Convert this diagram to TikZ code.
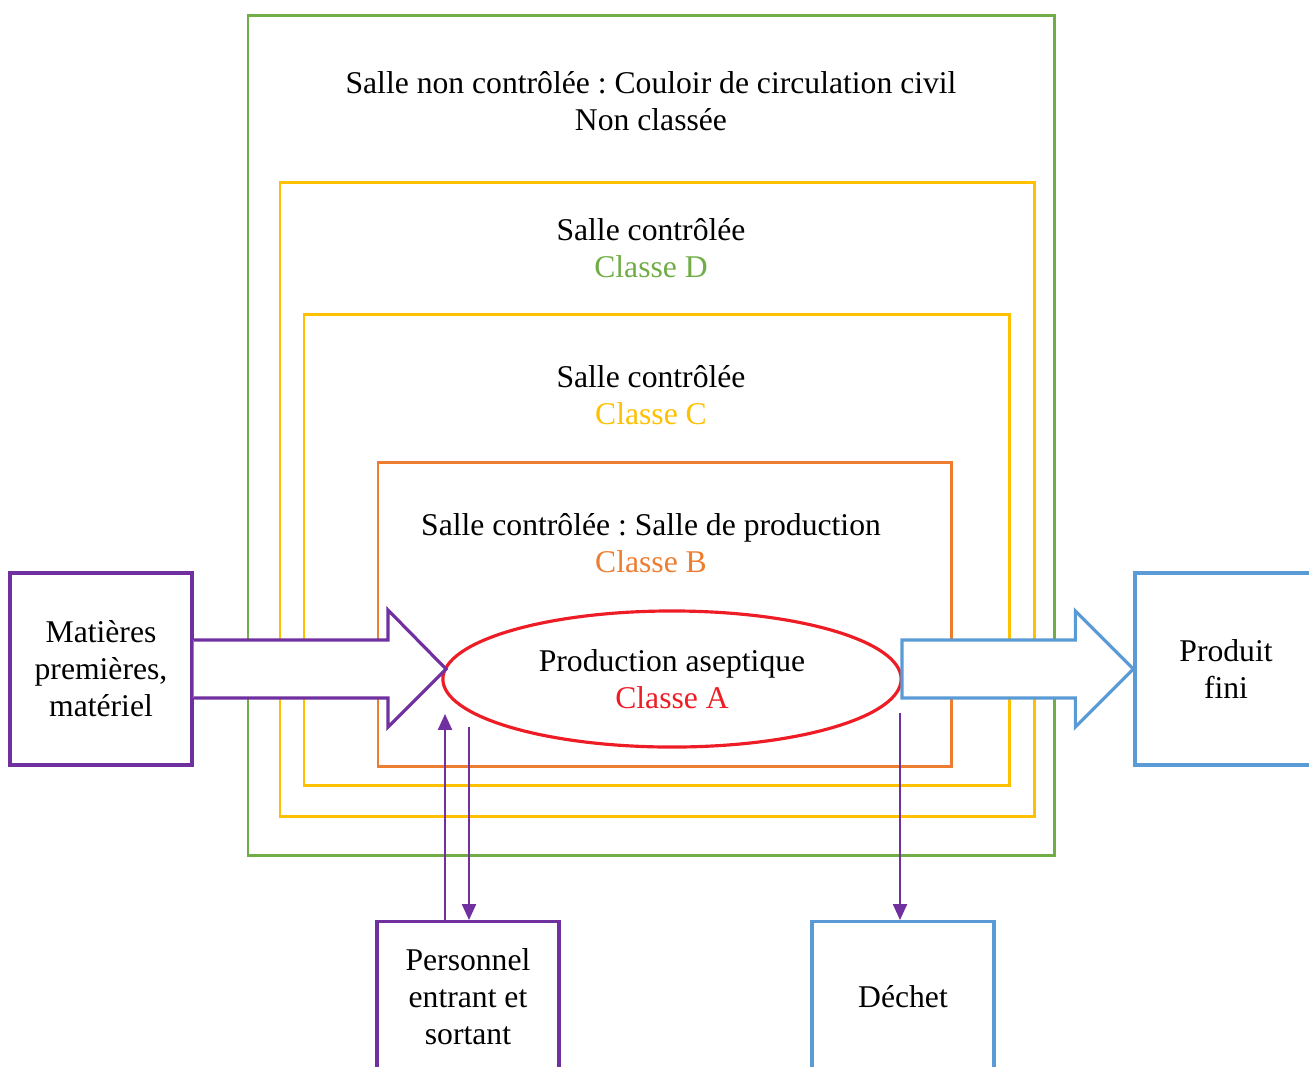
\documentclass[tikz,border=0pt]{standalone}
\usepackage{fontspec}
\setmainfont{Liberation Serif}
\usetikzlibrary{positioning}
\usetikzlibrary{calc}
\usetikzlibrary{arrows.meta}
\usetikzlibrary{shapes.geometric}
\frenchspacing

\definecolor{vertD}{HTML}{70AD47}
\definecolor{jauneC}{HTML}{FFC000}
\definecolor{orangeB}{HTML}{ED7D31}
\definecolor{rougeA}{HTML}{EE1C25}
\definecolor{violet}{HTML}{7030A0}
\definecolor{bleu}{HTML}{5B9BD5}

\begin{document}
\begin{tikzpicture}[x=0.01cm, y=-0.01cm, font=\fontsize{9}{10.5}\selectfont,
        salle/.style={line width=0.85pt},
        boite/.style={draw, line width=0.9pt, minimum width=1.82cm, align=center, inner sep=0pt},
        fleche/.style={line width=0.9pt, fill=white, line join=miter},
        flux/.style={violet, line width=0.45pt, -{Triangle[width=4pt,length=4.5pt]}}]

        \useasboundingbox (0,0) rectangle (1309,1066);
        \clip (0,0) rectangle (1309,1066);

        % couloir non classe
        \draw[salle, vertD] (248,15) rectangle (1054,855);
        \node[align=center] (txtNC) at (651,101) {Salle non contrôlée : Couloir de circulation civil\\Non classée};

        % classe D
        \draw[salle, jauneC] (280,182) rectangle (1034,816);
        \node[align=center] (txtD) at (651,248) {Salle contrôlée\\\textcolor{vertD}{Classe D}};

        % classe C
        \draw[salle, jauneC] (304,314) rectangle (1009,785);
        \node[align=center] (txtC) at (651,395) {Salle contrôlée\\\textcolor{jauneC}{Classe C}};

        % classe B
        \draw[salle, orangeB] (378,462) rectangle (951,766);
        \node[align=center] (txtB) at (651,543) {Salle contrôlée : Salle de production\\\textcolor{orangeB}{Classe B}};

        % boites exterieures
        \node[boite, draw=violet, minimum height=1.92cm] (matieres) at (101,669) {Matières\\premières,\\matériel};
        \node[boite, draw=bleu, minimum height=1.92cm] (produit) at (1226,669) {Produit\\fini};
        \node[boite, draw=violet, minimum height=1.5cm, anchor=north] (personnel) at (468,920) {Personnel\\entrant et\\sortant};
        \node[boite, draw=bleu, minimum height=1.5cm, anchor=north] (dechet) at (903,920) {Déchet};

        % zone aseptique
        \node[ellipse, draw=rougeA, line width=0.9pt, minimum width=4.58cm, minimum height=1.36cm, align=center, inner sep=0pt] (prod) at (672,679) {Production aseptique\\\textcolor{rougeA}{Classe A}};

        % grosses fleches
        \coordinate (pointeA) at (446,669);
        \draw[fleche, draw=violet] ($(matieres.east)+(0,-29)$) -- ($(pointeA)+(-58,-29)$) -- ($(pointeA)+(-58,-59)$)
            -- (pointeA) -- ($(pointeA)+(-58,58)$) -- ($(pointeA)+(-58,29)$) -- ($(matieres.east)+(0,29)$);

        \coordinate (queueB) at (902,669);
        \draw[fleche, draw=bleu] ($(queueB)+(0,-29)$) -- ($(produit.west)+(-58,-29)$) -- ($(produit.west)+(-58,-58)$)
            -- (produit.west) -- ($(produit.west)+(-58,58)$) -- ($(produit.west)+(-58,29)$) -- ($(queueB)+(0,29)$) -- cycle;

        % flux personnel et dechets
        \coordinate (entree) at (445,714);
        \coordinate (sortie) at (469,727);
        \coordinate (rejet) at (900,713);
        \draw[flux] (entree |- personnel.north) -- (entree);
        \draw[flux] (sortie) -- (sortie |- personnel.north);
        \draw[flux] (rejet) -- (rejet |- dechet.north);

    \end{tikzpicture}
\end{document}
